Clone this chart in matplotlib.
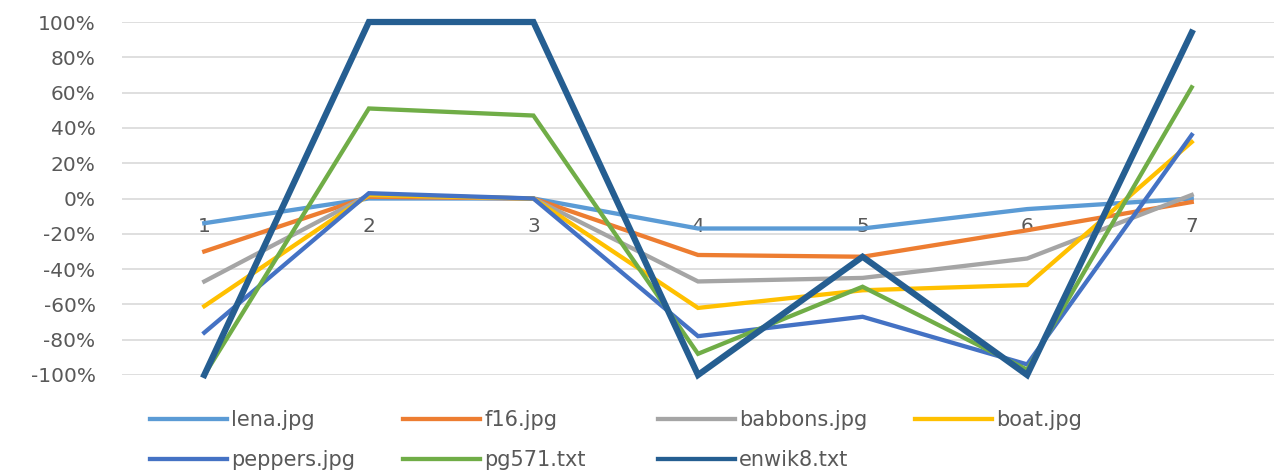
import matplotlib.pyplot as plt
from matplotlib.ticker import PercentFormatter

plt.rcParams['axes.unicode_minus'] = False

# Change per test case, relative to baseline (1.0 = 100%)
cases = [1, 2, 3, 4, 5, 6, 7]
lena = [-0.14, 0.00, 0.00, -0.17, -0.17, -0.06, 0.00]
f16 = [-0.30, 0.01, 0.00, -0.32, -0.33, -0.18, -0.02]
babbons = [-0.47, 0.02, 0.00, -0.47, -0.45, -0.34, 0.02]
boat = [-0.61, 0.02, 0.00, -0.62, -0.52, -0.49, 0.32]
peppers = [-0.76, 0.03, 0.00, -0.78, -0.67, -0.94, 0.36]
pg571 = [-1.00, 0.51, 0.47, -0.88, -0.50, -0.97, 0.63]
enwik8 = [-1.00, 1.00, 1.00, -1.00, -0.33, -1.00, 0.94]

names = ['lena.jpg', 'f16.jpg', 'babbons.jpg', 'boat.jpg',
         'peppers.jpg', 'pg571.txt', 'enwik8.txt']
series = [lena, f16, babbons, boat, peppers, pg571, enwik8]
colors = ['#5B9BD5', '#ED7D31', '#A5A5A5', '#FFC000',
          '#4472C4', '#70AD47', '#255E91']
widths = [3.1, 3.1, 3.1, 3.1, 3.1, 3.1, 4.5]

W, H = 1274, 471
fig = plt.figure(figsize=(W / 100, H / 100), dpi=100)
ax = fig.add_axes([122 / W, (H - 375) / H, (W - 122) / W, 353 / H])

lines = []
for name, vals, c, lw in zip(names, series, colors, widths):
    ln, = ax.plot(cases, vals, color=c, lw=lw, label=name,
                  solid_joinstyle='miter', clip_on=False, zorder=3)
    lines.append(ln)

ax.set_xlim(0.5, 7.5)
ax.set_ylim(-1, 1)
ax.set_yticks([-1 + 0.2 * i for i in range(11)])
ax.yaxis.set_major_formatter(PercentFormatter(1.0, decimals=0))
ax.grid(axis='y', color='#D9D9D9', lw=1.2)
ax.set_axisbelow(True)
ax.tick_params(axis='y', length=0, pad=19, labelsize=14.5, labelcolor='#595959')
ax.set_xticks([])
for s in ax.spines.values():
    s.set_visible(False)

# category labels sit just under the 0% line
for c in cases:
    ax.annotate(str(c), xy=(c, 0), xytext=(0, -20), textcoords='offset points',
                ha='center', va='center', fontsize=14.5, color='#595959', zorder=2)

# legend laid out row-wise in four columns
cols = [[0, 4], [1, 5], [2, 6], [3]]
col_x = [150, 403, 658, 915]
for idx, x in zip(cols, col_x):
    leg = fig.legend([lines[i] for i in idx], [names[i] for i in idx],
                     loc='upper left', bbox_to_anchor=(x / W, 1 - 410 / H),
                     frameon=False, fontsize=15, handlelength=3.7,
                     handletextpad=0.2, borderpad=0, borderaxespad=0,
                     labelspacing=0.95, labelcolor='#595959')
    for h in leg.get_lines():
        h.set_linewidth(3.1)

fig.savefig('out.png', dpi=100)
